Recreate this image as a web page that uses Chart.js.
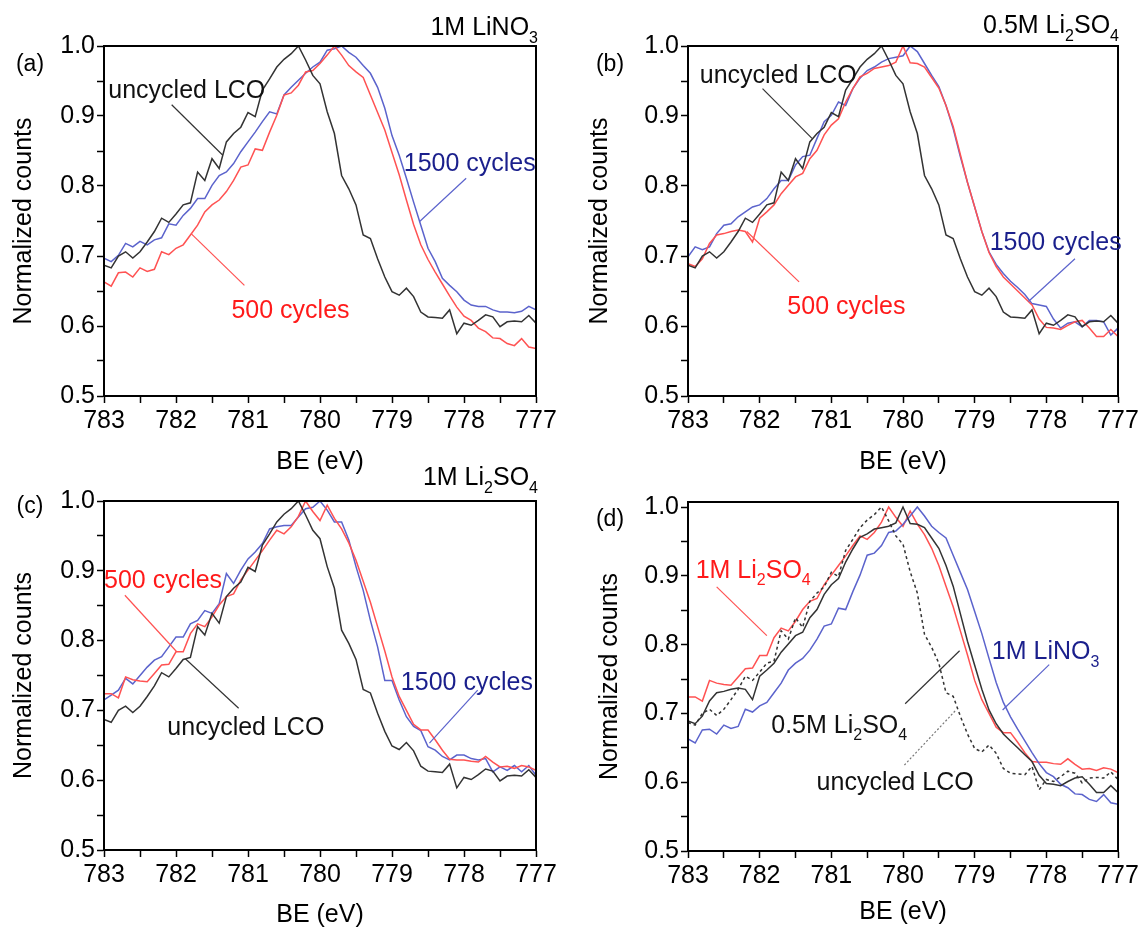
<!DOCTYPE html>
<html lang="en">
<head>
<meta charset="UTF-8">
<title>Co 2p XPS, normalized</title>
<script src="https://cdn.jsdelivr.net/npm/chart.js"></script>
<style>
  body { margin: 0; background: #fff; }
  #wrap { position: relative; width: 1143px; height: 930px; overflow: hidden; }
  canvas { position: absolute; }
</style>
</head>
<body>
<div id="wrap">
  <canvas id="pa" width="571" height="480" style="left:0;top:0"></canvas>
  <canvas id="pb" width="563" height="480" style="left:580px;top:0"></canvas>
  <canvas id="pc" width="571" height="465" style="left:0;top:465px"></canvas>
  <canvas id="pd" width="563" height="465" style="left:580px;top:465px"></canvas>
</div>
<script>
// binding energy grid (eV)
const BE = [783.0, 782.9, 782.8, 782.7, 782.6, 782.5, 782.4, 782.3, 782.2, 782.1,
            782.0, 781.9, 781.8, 781.7, 781.6, 781.5, 781.4, 781.3, 781.2, 781.1,
            781.0, 780.9, 780.8, 780.7, 780.6, 780.5, 780.4, 780.3, 780.2, 780.1,
            780.0, 779.9, 779.8, 779.7, 779.6, 779.5, 779.4, 779.3, 779.2, 779.1,
            779.0, 778.9, 778.8, 778.7, 778.6, 778.5, 778.4, 778.3, 778.2, 778.1,
            778.0, 777.9, 777.8, 777.7, 777.6, 777.5, 777.4, 777.3, 777.2, 777.1,
            777.0];

// uncycled LCO (same in every panel)
const uncycled = [0.687, 0.683, 0.700, 0.706, 0.697, 0.706, 0.720, 0.735, 0.754, 0.748,
                  0.760, 0.773, 0.776, 0.820, 0.808, 0.839, 0.825, 0.863, 0.875, 0.884,
                  0.905, 0.899, 0.937, 0.953, 0.970, 0.981, 0.989, 1.000, 0.980, 0.958,
                  0.946, 0.906, 0.875, 0.815, 0.796, 0.773, 0.730, 0.725, 0.696, 0.670,
                  0.649, 0.644, 0.654, 0.642, 0.620, 0.613, 0.612, 0.611, 0.623, 0.589,
                  0.604, 0.601, 0.608, 0.616, 0.613, 0.599, 0.606, 0.607, 0.606, 0.615,
                  0.604];

// 1M LiNO3
const lino3_500 = [0.663, 0.657, 0.676, 0.677, 0.670, 0.683, 0.678, 0.681, 0.706, 0.702,
                   0.711, 0.716, 0.730, 0.744, 0.763, 0.773, 0.780, 0.792, 0.808, 0.827,
                   0.830, 0.853, 0.851, 0.877, 0.901, 0.930, 0.933, 0.944, 0.963, 0.965,
                   0.975, 0.987, 1.000, 0.987, 0.972, 0.963, 0.955, 0.930, 0.905, 0.880,
                   0.848, 0.816, 0.780, 0.745, 0.716, 0.695, 0.677, 0.660, 0.643, 0.627,
                   0.614, 0.608, 0.597, 0.592, 0.583, 0.582, 0.575, 0.572, 0.582, 0.570,
                   0.568];
const lino3_1500 = [0.697, 0.692, 0.701, 0.718, 0.713, 0.721, 0.716, 0.723, 0.726, 0.746,
                    0.744, 0.758, 0.768, 0.782, 0.782, 0.801, 0.815, 0.820, 0.832, 0.849,
                    0.863, 0.877, 0.892, 0.906, 0.903, 0.930, 0.941, 0.951, 0.961, 0.970,
                    0.977, 0.994, 0.996, 1.000, 0.991, 0.984, 0.972, 0.961, 0.941, 0.911,
                    0.872, 0.844, 0.811, 0.777, 0.744, 0.711, 0.692, 0.668, 0.658, 0.649,
                    0.637, 0.630, 0.628, 0.628, 0.623, 0.620, 0.620, 0.619, 0.621, 0.628,
                    0.623];

// 0.5M Li2SO4
const li2so4h_500 = [0.689, 0.685, 0.696, 0.718, 0.730, 0.732, 0.735, 0.737, 0.735, 0.720,
                     0.754, 0.763, 0.773, 0.789, 0.801, 0.813, 0.818, 0.839, 0.851, 0.873,
                     0.887, 0.896, 0.920, 0.939, 0.956, 0.961, 0.968, 0.970, 0.972, 0.977,
                     1.000, 0.976, 0.975, 0.970, 0.955, 0.940, 0.915, 0.885, 0.845, 0.805,
                     0.770, 0.735, 0.705, 0.685, 0.670, 0.660, 0.650, 0.640, 0.630, 0.610,
                     0.598, 0.597, 0.595, 0.601, 0.606, 0.608, 0.597, 0.585, 0.585, 0.595,
                     0.585];
const li2so4h_1500 = [0.699, 0.713, 0.709, 0.713, 0.732, 0.744, 0.746, 0.756, 0.763, 0.770,
                      0.773, 0.782, 0.796, 0.808, 0.808, 0.830, 0.842, 0.844, 0.868, 0.892,
                      0.901, 0.920, 0.915, 0.939, 0.954, 0.965, 0.970, 0.977, 0.982, 0.984,
                      0.986, 1.000, 0.992, 0.975, 0.958, 0.942, 0.915, 0.882, 0.842, 0.805,
                      0.770, 0.735, 0.706, 0.688, 0.675, 0.664, 0.655, 0.645, 0.632, 0.630,
                      0.628, 0.610, 0.597, 0.604, 0.606, 0.599, 0.608, 0.608, 0.606, 0.587,
                      0.597];

// 1M Li2SO4
const li2so4_500 = [0.724, 0.724, 0.718, 0.748, 0.744, 0.742, 0.741, 0.753, 0.765, 0.766,
                    0.784, 0.784, 0.810, 0.824, 0.820, 0.834, 0.851, 0.863, 0.867, 0.887,
                    0.901, 0.915, 0.929, 0.944, 0.958, 0.953, 0.963, 0.978, 1.000, 0.985,
                    0.972, 0.994, 0.975, 0.960, 0.940, 0.915, 0.885, 0.855, 0.820, 0.785,
                    0.748, 0.720, 0.700, 0.680, 0.672, 0.672, 0.658, 0.643, 0.630, 0.629,
                    0.629, 0.627, 0.626, 0.634, 0.626, 0.619, 0.620, 0.617, 0.621, 0.619,
                    0.614];
const li2so4_1500 = [0.715, 0.722, 0.729, 0.746, 0.738, 0.750, 0.762, 0.772, 0.777, 0.791,
                     0.805, 0.805, 0.824, 0.829, 0.843, 0.839, 0.853, 0.896, 0.882, 0.901,
                     0.917, 0.927, 0.939, 0.960, 0.963, 0.965, 0.965, 0.977, 0.989, 0.991,
                     1.000, 0.987, 0.970, 0.970, 0.944, 0.906, 0.872, 0.829, 0.791, 0.743,
                     0.743, 0.715, 0.691, 0.677, 0.671, 0.648, 0.643, 0.634, 0.629, 0.636,
                     0.636, 0.631, 0.629, 0.631, 0.612, 0.619, 0.614, 0.621, 0.612, 0.621,
                     0.607];

const FONT = '"Liberation Sans", Arial, sans-serif';
const BLACK = '#333333', RED = '#ff5252', BLUE = '#5b63cc';
const RED_TXT = '#ff1a1a', BLUE_TXT = '#1a1f8c', BLACK_TXT = '#111111';

function series(arr, color, dash) {
  return {
    data: BE.map((x, i) => ({ x: x, y: arr[i] })),
    borderColor: color, borderWidth: 1.5, borderDash: dash || [],
    pointRadius: 0, tension: 0, fill: false
  };
}

// text with subscripts, centred (or right-aligned) on x, vertically centred on caps
function drawRich(ctx, parts, x, y, size, color, align) {
  let w = 0;
  parts.forEach(p => {
    ctx.font = (p.sub ? Math.round(size * 0.65) : size) + 'px ' + FONT;
    p.w = ctx.measureText(p.t).width;
    w += p.w;
  });
  let cx = align === 'right' ? x - w : (align === 'left' ? x : x - w / 2);
  const base = y + size * 0.36;
  ctx.fillStyle = color;
  ctx.textAlign = 'left';
  ctx.textBaseline = 'alphabetic';
  parts.forEach(p => {
    ctx.font = (p.sub ? Math.round(size * 0.65) : size) + 'px ' + FONT;
    ctx.fillText(p.t, cx, base + (p.sub ? size * 0.3 : 0));
    cx += p.w;
  });
}

const decor = {
  id: 'decor',
  afterDraw(chart, args, o) {
    const { ctx, chartArea: ca, scales } = chart;
    ctx.save();
    // frame
    ctx.strokeStyle = '#000';
    ctx.lineWidth = 2;
    ctx.strokeRect(ca.left, ca.top, ca.right - ca.left, ca.bottom - ca.top);
    // leader lines
    (o.leaders || []).forEach(l => {
      ctx.beginPath();
      ctx.strokeStyle = l.color;
      ctx.lineWidth = 1.2;
      ctx.setLineDash(l.dash || []);
      ctx.moveTo(scales.x.getPixelForValue(l.x1), scales.y.getPixelForValue(l.y1));
      ctx.lineTo(scales.x.getPixelForValue(l.x2), scales.y.getPixelForValue(l.y2));
      ctx.stroke();
    });
    ctx.setLineDash([]);
    // curve labels
    (o.labels || []).forEach(t => {
      drawRich(ctx, t.parts, scales.x.getPixelForValue(t.x), scales.y.getPixelForValue(t.y), 25, t.color, 'center');
    });
    // panel letter and electrolyte title
    drawRich(ctx, [{ t: o.letter }], ca.left + o.letterDx, ca.top + o.letterDy, 23, '#000', 'center');
    if (o.title) drawRich(ctx, o.title, ca.right + o.titleDx, ca.top + o.titleDy, 25, '#000', 'right');
    ctx.restore();
  }
};

function onStep(v, step) {
  return Math.abs(v / step - Math.round(v / step)) < 1e-6;
}

function makePanel(id, datasets, p) {
  const tickFont = { family: FONT, size: 25 };
  return new Chart(document.getElementById(id), {
    type: 'line',
    data: { datasets: datasets },
    plugins: [decor],
    options: {
      responsive: false,
      animation: false,
      layout: { padding: { left: 0, top: p.top, right: p.right, bottom: 0 } },
      plugins: { legend: { display: false }, tooltip: { enabled: false }, decor: p.decor },
      scales: {
        x: {
          type: 'linear', reverse: true, min: 777, max: 783,
          afterBuildTicks: s => { s.ticks = s.ticks.filter(t => onStep(t.value, 0.5)); },
          afterFit: s => { s.height = p.xh; },
          ticks: {
            stepSize: 0.5, autoSkip: false, maxRotation: 0, padding: 3, includeBounds: false,
            color: '#000', font: tickFont,
            callback: v => onStep(v, 1) ? String(Math.round(v)) : ''
          },
          grid: { drawOnChartArea: false, tickLength: 7, tickWidth: 1.5, tickColor: '#000' },
          border: { display: true, color: '#000', width: 2 },
          title: { display: true, text: 'BE (eV)', color: '#000', font: tickFont,
                   padding: { top: 0, bottom: p.xtPad } }
        },
        y: {
          min: 0.5, max: p.ymax,
          afterBuildTicks: s => { s.ticks = s.ticks.filter(t => onStep(t.value, 0.05)); },
          afterFit: s => { s.width = p.yw; },
          ticks: {
            stepSize: 0.05, autoSkip: false, padding: 2, includeBounds: false,
            color: '#000', font: tickFont,
            callback: v => onStep(v, 0.1) ? v.toFixed(1) : ''
          },
          grid: { drawOnChartArea: false, tickLength: 7, tickWidth: 1.5, tickColor: '#000' },
          border: { display: true, color: '#000', width: 2 },
          title: { display: true, text: 'Normalized counts', color: '#000', font: tickFont,
                   padding: { top: p.ytPad, bottom: 0 } }
        }
      }
    }
  });
}

const T_UNC = [{ t: 'uncycled LCO' }], T_500 = [{ t: '500 cycles' }], T_1500 = [{ t: '1500 cycles' }];

makePanel('pa', [
  series(uncycled, BLACK), series(lino3_500, RED), series(lino3_1500, BLUE)
], {
  top: 46, right: 35, yw: 104, xh: 84, ymax: 1.0, xtPad: 3, ytPad: 9,
  decor: {
    letter: '(a)', letterDx: -74, letterDy: 17,
    title: [{ t: '1M LiNO' }, { t: '3', sub: true }], titleDx: 2, titleDy: -20,
    labels: [
      { parts: T_UNC, x: 781.85, y: 0.938, color: BLACK_TXT },
      { parts: T_500, x: 780.41, y: 0.624, color: RED_TXT },
      { parts: T_1500, x: 777.92, y: 0.834, color: BLUE_TXT }
    ],
    leaders: [
      { x1: 782.06, y1: 0.916, x2: 781.35, y2: 0.844, color: BLACK },
      { x1: 781.79, y1: 0.732, x2: 781.05, y2: 0.658, color: RED },
      { x1: 777.97, y1: 0.811, x2: 778.62, y2: 0.749, color: BLUE }
    ]
  }
});

makePanel('pb', [
  series(uncycled, BLACK), series(li2so4h_500, RED), series(li2so4h_1500, BLUE)
], {
  top: 46, right: 25, yw: 108, xh: 84, ymax: 1.0, xtPad: 3, ytPad: 5,
  decor: {
    letter: '(b)', letterDx: -78, letterDy: 17,
    title: [{ t: '0.5M Li' }, { t: '2', sub: true }, { t: 'SO' }, { t: '4', sub: true }], titleDx: 1, titleDy: -22,
    labels: [
      { parts: T_UNC, x: 781.74, y: 0.960, color: BLACK_TXT },
      { parts: T_500, x: 780.79, y: 0.630, color: RED_TXT },
      { parts: T_1500, x: 777.87, y: 0.721, color: BLUE_TXT }
    ],
    leaders: [
      { x1: 781.96, y1: 0.939, x2: 781.27, y2: 0.868, color: BLACK },
      { x1: 782.18, y1: 0.735, x2: 781.45, y2: 0.663, color: RED },
      { x1: 777.60, y1: 0.696, x2: 778.25, y2: 0.635, color: BLUE }
    ]
  }
});

makePanel('pc', [
  series(uncycled, BLACK), series(li2so4_500, RED), series(li2so4_1500, BLUE)
], {
  top: 36, right: 35, yw: 104, xh: 80, ymax: 1.0, xtPad: 0, ytPad: 9,
  decor: {
    letter: '(c)', letterDx: -74, letterDy: 4,
    title: [{ t: '1M Li' }, { t: '2', sub: true }, { t: 'SO' }, { t: '4', sub: true }], titleDx: 2, titleDy: -25,
    labels: [
      { parts: T_500, x: 782.18, y: 0.888, color: RED_TXT },
      { parts: T_UNC, x: 781.03, y: 0.677, color: BLACK_TXT },
      { parts: T_1500, x: 777.96, y: 0.742, color: BLUE_TXT }
    ],
    leaders: [
      { x1: 782.71, y1: 0.865, x2: 781.99, y2: 0.784, color: RED },
      { x1: 781.87, y1: 0.774, x2: 781.13, y2: 0.703, color: BLACK },
      { x1: 777.81, y1: 0.729, x2: 778.48, y2: 0.653, color: BLUE }
    ]
  }
});

makePanel('pd', [
  series(uncycled, BLACK, [3, 3]), series(li2so4h_500, BLACK),
  series(lino3_500, BLUE), series(li2so4_500, RED)
], {
  top: 37, right: 25, yw: 108, xh: 79, ymax: 1.0073, xtPad: 3, ytPad: 15,
  decor: {
    letter: '(d)', letterDx: -78, letterDy: 16,
    labels: [
      { parts: [{ t: '1M Li' }, { t: '2', sub: true }, { t: 'SO' }, { t: '4', sub: true }], x: 782.09, y: 0.910, color: RED_TXT },
      { parts: [{ t: '1M LiNO' }, { t: '3', sub: true }], x: 778.01, y: 0.792, color: BLUE_TXT },
      { parts: [{ t: '0.5M Li' }, { t: '2', sub: true }, { t: 'SO' }, { t: '4', sub: true }], x: 780.89, y: 0.685, color: BLACK_TXT },
      { parts: T_UNC, x: 780.11, y: 0.602, color: BLACK_TXT }
    ],
    leaders: [
      { x1: 782.60, y1: 0.884, x2: 781.90, y2: 0.813, color: RED },
      { x1: 777.96, y1: 0.771, x2: 778.61, y2: 0.705, color: BLUE },
      { x1: 779.97, y1: 0.714, x2: 779.21, y2: 0.791, color: BLACK },
      { x1: 779.98, y1: 0.625, x2: 779.26, y2: 0.705, color: '#777777', dash: [2, 2] }
    ]
  }
});
</script>
</body>
</html>
